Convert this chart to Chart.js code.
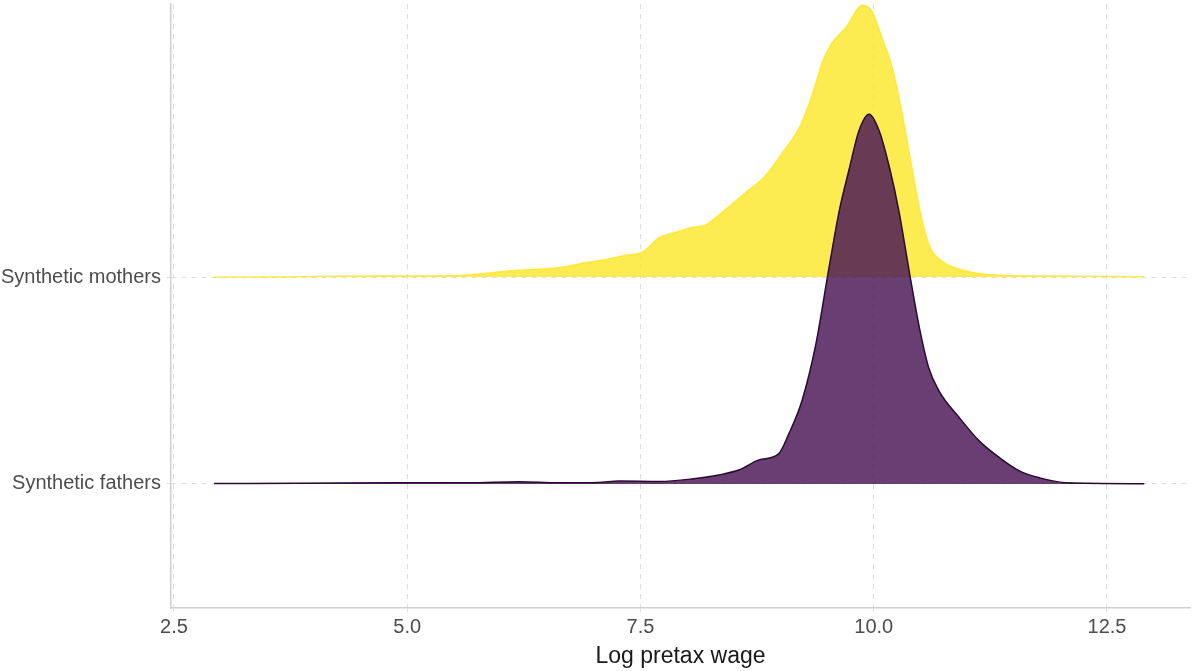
<!DOCTYPE html>
<html>
<head>
<meta charset="utf-8">
<script src="https://cdn.jsdelivr.net/npm/chart.js@4.4.0/dist/chart.umd.min.js"></script>
<style>
  html,body{margin:0;padding:0;background:#fff}
  #wrap{width:1192px;height:671px}
</style>
</head>
<body>
<div id="wrap"><canvas id="c" width="1192" height="671"></canvas></div>
<script>
// ridge rows (fathers at 1, mothers at 2), heights are in row units
const groups = ['Synthetic fathers', 'Synthetic mothers'];
const groupRows = [1, 2];
const xTicks = [2.5, 5, 7.5, 10, 12.5];

const mothersX = [2.93, 3.84, 4.69, 5.58, 6.11, 6.62, 6.92, 7.13, 7.34, 7.52, 7.70, 7.91, 8.05, 8.20,
  8.34, 8.66, 8.84, 9.02, 9.20, 9.34, 9.45, 9.55, 9.70, 9.88, 9.98, 10.09, 10.20, 10.30, 10.41,
  10.49, 10.59, 10.73, 10.99, 11.27, 11.88, 12.90];
const mothersH = [0.000, 0.002, 0.005, 0.008, 0.030, 0.045, 0.070, 0.085, 0.105, 0.120, 0.190, 0.220, 0.240, 0.252,
  0.300, 0.420, 0.490, 0.600, 0.720, 0.880, 1.040, 1.130, 1.205, 1.314, 1.285, 1.155, 1.010, 0.802, 0.527,
  0.333, 0.159, 0.077, 0.029, 0.010, 0.005, 0.001];

const fathersX = [2.93, 3.84, 4.91, 5.66, 6.20, 6.62, 7.05, 7.27, 7.70, 8.05, 8.34, 8.56, 8.77, 8.98, 9.09,
  9.23, 9.38, 9.52, 9.63, 9.74, 9.84, 9.95, 10.06, 10.17, 10.27, 10.38, 10.49, 10.59, 10.70, 10.92,
  11.13, 11.35, 11.56, 11.78, 12.07, 12.90];
const fathersH = [0.002, 0.003, 0.005, 0.005, 0.010, 0.005, 0.007, 0.014, 0.012, 0.024, 0.043, 0.068, 0.116, 0.145, 0.242,
  0.401, 0.676, 1.043, 1.319, 1.527, 1.705, 1.787, 1.705, 1.527, 1.319, 1.029, 0.754, 0.560, 0.449, 0.319,
  0.208, 0.126, 0.063, 0.029, 0.005, 0.001];

function ridge(xs, hs, base){
  return xs.map((x, i) => ({ x: x, y: base + hs[i] }));
}

const gridCol = '#dedede';
const axisCol = '#cfcfcf';
const txtCol = '#4d4d4d';
const fam = '"Liberation Sans", Arial, sans-serif';

new Chart(document.getElementById('c').getContext('2d'), {
  type: 'line',
  data: {
    datasets: [
      {
        label: groups[0],
        data: ridge(fathersX, fathersH, groupRows[0]),
        fill: { value: groupRows[0] },
        backgroundColor: 'rgba(72,20,84,0.82)',
        borderColor: '#2a0a30',
        borderWidth: 1.5,
        pointRadius: 0,
        cubicInterpolationMode: 'monotone'
      },
      {
        label: groups[1],
        data: ridge(mothersX, mothersH, groupRows[1]),
        fill: { value: groupRows[1] },
        backgroundColor: 'rgba(253,231,37,0.8)',
        borderColor: 'rgba(253,231,37,0.8)',
        borderWidth: 1.5,
        pointRadius: 0,
        cubicInterpolationMode: 'monotone'
      }
    ]
  },
  options: {
    responsive: false,
    animation: false,
    devicePixelRatio: 1,
    layout: { padding: { top: 4, right: 2, left: 0, bottom: 0 } },
    plugins: { legend: { display: false }, tooltip: { enabled: false } },
    scales: {
      x: {
        type: 'linear',
        min: 2.468,
        max: 13.39,
        afterBuildTicks: s => { s.ticks = xTicks.map(v => ({ value: v })); },
        afterFit: s => { s.height = 63; s.paddingLeft = 0; s.paddingRight = 0; },
        grid: { color: gridCol, lineWidth: 1, tickLength: 4, tickColor: gridCol },
        border: { display: true, color: axisCol, width: 1.5, dash: [5, 5] },
        ticks: {
          color: txtCol, padding: 3,
          font: { family: fam, size: 20 },
          callback: v => Number(v).toFixed(1)
        },
        title: {
          display: true, text: 'Log pretax wage', color: '#1a1a1a',
          font: { family: fam, size: 23 }, padding: { top: 0, bottom: 1 }
        }
      },
      y: {
        type: 'linear',
        min: 0.40,
        max: 3.32,
        afterBuildTicks: s => { s.ticks = groupRows.map(v => ({ value: v })); },
        afterFit: s => { s.width = 171; s.paddingTop = 0; s.paddingBottom = 0; },
        grid: { color: gridCol, lineWidth: 1, tickLength: 5, tickColor: gridCol },
        border: { display: true, color: axisCol, width: 1.5, dash: [5, 5] },
        ticks: {
          color: txtCol, padding: 5,
          font: { family: fam, size: 20 },
          callback: v => groups[groupRows.indexOf(v)]
        }
      }
    }
  }
});
</script>
</body>
</html>
